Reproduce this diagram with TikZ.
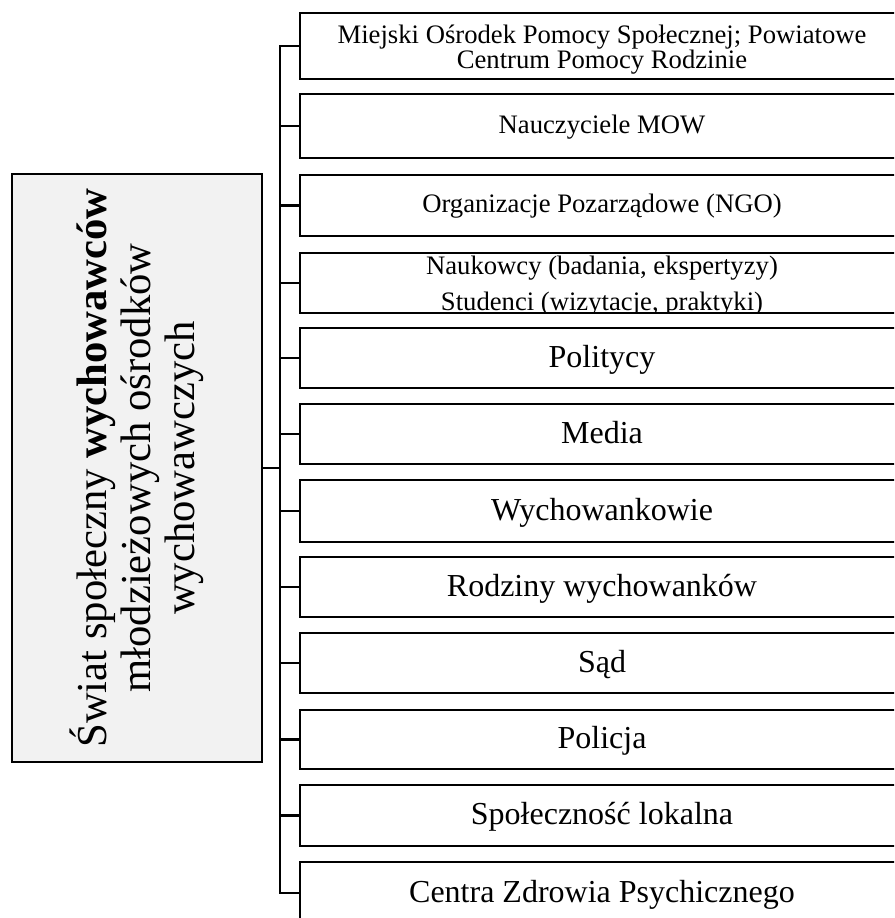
\documentclass[tikz,border=0pt]{standalone}
\usepackage{fontspec}
\setmainfont{Liberation Serif}
\definecolor{panelgray}{HTML}{F2F2F2}
\begin{document}
\begin{tikzpicture}[x=0.75pt,y=-0.75pt,
  box/.style={draw, line width=2pt, minimum width=453pt, inner sep=0pt, outer sep=0pt, anchor=north west},
  sfont/.style={font=\fontsize{20}{18.75}\selectfont},
  sline/.style={sfont, text height=13.5pt, text depth=3pt},
  bline/.style={font=\fontsize{24}{27.6}\selectfont, text height=16.5pt, text depth=3pt},
  conn/.style={line width=1.6pt},
  trunkline/.style={line width=2.2pt, line join=miter},
  mainbox/.style={draw, line width=1.6pt, fill=panelgray, inner sep=0pt, outer sep=0pt, align=center,
    font=\fontsize{32}{33}\selectfont}]
\useasboundingbox (0,0) rectangle (894,918);
\clip (0,0) rectangle (894,918);

% central box, text turned to read bottom-to-top (its south side faces right)
\node[mainbox, rotate=90, minimum width=441pt, minimum height=187.5pt] (L) at (137,468)
  {Świat społeczny \textbf{wychowawców}\\młodzieżowych ośrodków\\wychowawczych};

% column of partner boxes
\node[box, minimum height=49.5pt] (b1) at (300,13) {};
\node[sfont, align=center] (b1t) at ([yshift=-3pt]b1.center)
  {Miejski Ośrodek Pomocy Społecznej; Powiatowe\\Centrum Pomocy Rodzinie};
\node[box, minimum height=48pt, sline] (b2) at (300,94) {Nauczyciele MOW};
\node[box, minimum height=45.75pt, sline] (b3) at (300,175) {Organizacje Pozarządowe (NGO)};
\node[box, minimum height=45pt] (b4) at (300,253) {};
\begin{scope}
  \clip (b4.north west) rectangle (b4.south east);
  \node[align=center, font=\fontsize{20}{27}\selectfont] (b4t) at ([yshift=-2pt]b4.center)
    {Naukowcy (badania, ekspertyzy)\\Studenci (wizytacje, praktyki)};
\end{scope}
\node[box, minimum height=45pt, bline] (b5) at (300,328) {Politycy};
\node[box, minimum height=45pt, bline] (b6) at (300,404) {Media};
\node[box, minimum height=46.5pt, bline] (b7) at (300,480) {Wychowankowie};
\node[box, minimum height=45pt, bline] (b8) at (300,557) {Rodziny wychowanków};
\node[box, minimum height=45pt, bline] (b9) at (300,633) {Sąd};
\node[box, minimum height=44.25pt, bline] (b10) at (300,710) {Policja};
\node[box, minimum height=45.75pt, bline] (b11) at (300,785) {Społeczność lokalna};
\node[box, minimum height=46.5pt, bline] (b12) at (300,862) {Centra Zdrowia Psychicznego};

% connectors: vertical trunk with a tick to each box
\coordinate (trunk) at (280,0);
\draw[trunkline] (b1.west) -- (b1.west -| trunk) -- (b12.west -| trunk) -- (b12.west);
\draw[conn] (L.south) -- (L.south -| trunk);
\foreach \b in {b2,b3,b4,b5,b6,b7,b8,b9,b10,b11}
  \draw[conn] (\b.west) -- (\b.west -| trunk);
\end{tikzpicture}
\end{document}
